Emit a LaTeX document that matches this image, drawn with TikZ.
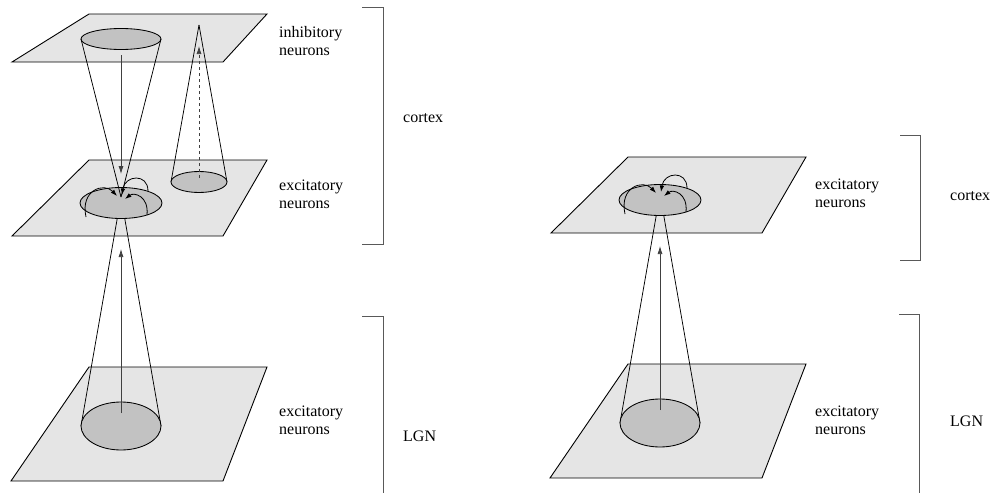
\documentclass[tikz,border=0pt]{standalone}
\usepackage{fontspec}
\setmainfont{Liberation Serif}
\usetikzlibrary{arrows.meta}
\definecolor{planegray}{gray}{0.9}
\definecolor{spotgray}{gray}{0.76}
\tikzset{
  plane/.style={fill=planegray, draw=black, line width=0.9pt, line join=miter},
  spot/.style={fill=spotgray, draw=black, line width=0.85pt},
  cone/.style={draw=black, line width=0.75pt},
  feed/.style={draw=black!75, line width=0.75pt, -{Latex[length=8pt,width=5pt]}},
  lateral/.style={draw=black, line width=0.8pt, -{Latex[length=6.5pt,width=4.5pt]}},
  bracket/.style={draw=black!65, line width=0.9pt},
  lbl/.style={font=\fontsize{16}{18.5}\selectfont, anchor=north west, inner sep=0pt, align=left},
}
\begin{document}
\begin{tikzpicture}[x=1pt, y=-1pt]
\useasboundingbox (0,0) rectangle (997,493);

% ---------------- layers of both columns
\draw[plane] (89,14) -- (267,14) -- (223,62) -- (12,62) -- cycle;
\foreach \dx/\dy/\tag in {0/0/L, 539/-3/R}{
  \begin{scope}[shift={(\dx,\dy)}]
    \draw[plane] (89,160) -- (267,160) -- (223,236) -- (12,236) -- cycle;
    \draw[plane] (89,367) -- (267,367) -- (223,481) -- (11,481) -- cycle;
    % named points of the feed-forward cone
    \coordinate (apex\tag) at (121,197);
    \coordinate (lgnC\tag) at (121,426);
    \coordinate (lgnW\tag) at (81,426);
    \coordinate (lgnE\tag) at (161,426);
    \coordinate (lgnS\tag) at (121,413);
    \coordinate (ffTip\tag) at (121,249);
    % cone from the LGN patch to the cortical point
    \draw[cone] (apex\tag) -- (lgnW\tag);
    \draw[cone] (apex\tag) -- (lgnE\tag);
    \draw[spot] (lgnC\tag) ellipse [x radius=40, y radius=24];
    \draw[spot] (121,203) ellipse [x radius=41, y radius=15.5];
    \draw[feed] (lgnS\tag) -- (ffTip\tag);
  \end{scope}
}

% inhibitory patch and its cone down to the excitatory point
\coordinate (inhC) at (121,39);
\coordinate (inhW) at (81,39);
\coordinate (inhE) at (161,39);
\coordinate (inhS) at (121,55);
\coordinate (inhTip) at (121,174);
\draw[spot] (inhC) ellipse [x radius=40, y radius=10.5];
\draw[cone] (inhW) -- (apexL);
\draw[cone] (inhE) -- (apexL);
\draw[feed] (inhS) -- (inhTip);

% excitatory patch projecting up to one inhibitory point
\coordinate (upApex) at (199,25);
\coordinate (exC) at (199,182);
\coordinate (exW) at (171,182);
\coordinate (exE) at (227,182);
\coordinate (exS) at (199,178);
\coordinate (exTip) at (199,46);
\draw[cone] (upApex) -- (exW);
\draw[cone] (upApex) -- (exE);
\draw[spot] (exC) ellipse [x radius=28, y radius=10.5];
\draw[feed, dashed] (exS) -- (exTip);

% lateral excitatory connections inside the cortical patches
\foreach \dx/\dy in {0/0, 539/-3}{
  \begin{scope}[shift={(\dx,\dy)}]
    \coordinate (latA) at (86,217);
    \coordinate (latAend) at (117,196);
    \coordinate (latB) at (148,191);
    \coordinate (latBend) at (122,195);
    \coordinate (latC) at (147,215);
    \coordinate (latCend) at (125,199);
    \draw[lateral] (latA) .. controls (80,190) and (104,182) .. (latAend);
    \draw[lateral] (latB) .. controls (148,173) and (125,175) .. (latBend);
    \draw[lateral] (latC) .. controls (149,196) and (134,192) .. (latCend);
  \end{scope}
}

% layer labels
\node[lbl] (lInh) at (279,24) {\strut inhibitory\\\strut neurons};
\node[lbl] (lExM) at (279,177) {\strut excitatory\\\strut neurons};
\node[lbl] (lExB) at (279,403) {\strut excitatory\\\strut neurons};
\node[lbl] (rExM) at (815,176) {\strut excitatory\\\strut neurons};
\node[lbl] (rExB) at (815,403) {\strut excitatory\\\strut neurons};

% brackets grouping layers into areas
\draw[bracket] (362,7) -- (383,7) -- (383,244) -- (362,244);
\draw[bracket] (362,316) -- (383,316) -- (383,496);
\draw[bracket] (900,135) -- (920,135) -- (920,260) -- (900,260);
\draw[bracket] (899,314) -- (919,314) -- (919,496);

\node[lbl, anchor=base west] (lCtx) at (403,122) {cortex};
\node[lbl, anchor=base west] (lLgn) at (403,441) {LGN};
\node[lbl, anchor=base west] (rCtx) at (950,200) {cortex};
\node[lbl, anchor=base west] (rLgn) at (950,426) {LGN};
\end{tikzpicture}
\end{document}
